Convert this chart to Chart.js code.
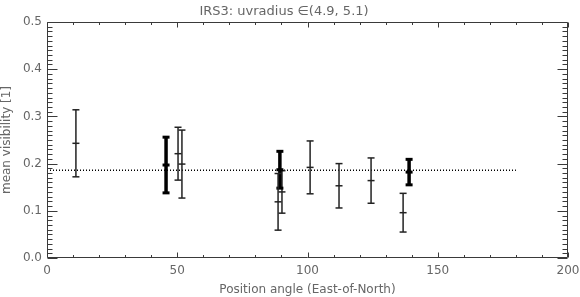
<!DOCTYPE html>
<html>
<head>
<meta charset="utf-8">
<script src="https://cdn.jsdelivr.net/npm/chart.js@4.4.0/dist/chart.umd.min.js"></script>
<style>
html,body{margin:0;padding:0;background:#fff;}
canvas{display:block;}
</style>
</head>
<body>
<canvas id="c" width="580" height="297"></canvas>
<script>
// Data
const angles     = [11.1, 45.7, 50.3, 51.8, 88.7, 89.4, 90.2, 101.0, 112.1, 124.4, 136.7, 139.0];
const visibility = [0.243, 0.197, 0.221, 0.199, 0.119, 0.187, 0.140, 0.192, 0.153, 0.164, 0.096, 0.182];
const errors     = [0.071, 0.059, 0.056, 0.072, 0.060, 0.039, 0.045, 0.056, 0.047, 0.048, 0.041, 0.027];
const heavy      = [0, 1, 0, 0, 0, 1, 0, 0, 0, 0, 0, 1];
const meanVis    = 0.186;
const meanRange  = [0, 180];
const xTicks     = [0, 50, 100, 150, 200];
const yTicks     = [0.0, 0.1, 0.2, 0.3, 0.4, 0.5];
const yTickLabels= ['0.0', '0.1', '0.2', '0.3', '0.4', '0.5'];
const xMinorStep = 10;
const yMinorStep = 0.01;

const TEXT = '#666';
const AXIS = '#3a3a3a';

const datasets = angles.map((a, i) => {
  const col = heavy[i] ? '#000' : '#222';
  return {
    type: 'scatter',
    showLine: true,
    data: [
      {x: a, y: visibility[i] - errors[i]},
      {x: a, y: visibility[i]},
      {x: a, y: visibility[i] + errors[i]}
    ],
    borderColor: col,
    borderWidth: heavy[i] ? 3.5 : 1.5,
    pointStyle: 'line',
    pointRadius: 3.5,
    pointHoverRadius: 3.5,
    pointBorderColor: col,
    pointBorderWidth: heavy[i] ? 3 : 1.5,
    pointBackgroundColor: col
  };
});
datasets.push({
  type: 'scatter',
  showLine: true,
  data: [{x: meanRange[0], y: meanVis}, {x: meanRange[1], y: meanVis}],
  borderColor: '#000',
  borderWidth: 1.5,
  borderDash: [1, 2],
  pointRadius: 0
});

const frameTicks = {
  id: 'frameTicks',
  afterDraw(chart) {
    const ctx = chart.ctx;
    try {
      const ca = chart.chartArea;
      const x = chart.scales.x, y = chart.scales.y;
      ctx.save();
      ctx.strokeStyle = AXIS;
      ctx.lineWidth = 1;
      ctx.setLineDash([]);
      ctx.globalAlpha = 1;
      const L = Math.round(ca.left) + 0.5, R = Math.round(ca.right) - 0.5;
      const T = Math.round(ca.top) + 0.5, B = Math.round(ca.bottom) - 0.5;
      ctx.beginPath();
      ctx.rect(L, T, R - L, B - T);
      // x ticks (bottom and top)
      for (let k = 0; k <= Math.round((x.max - x.min) / xMinorStep); k++) {
        const v = x.min + k * xMinorStep;
        const major = xTicks.some(t => Math.abs(t - v) < 1e-6);
        const len = major ? 5 : 2.5;
        const px = Math.round(x.getPixelForValue(v)) + 0.5;
        ctx.moveTo(px, B); ctx.lineTo(px, B - len);
        ctx.moveTo(px, T); ctx.lineTo(px, T + len);
      }
      // y ticks (left and right)
      for (let k = 0; k <= Math.round((y.max - y.min) / yMinorStep); k++) {
        const v = y.min + k * yMinorStep;
        const major = yTicks.some(t => Math.abs(t - v) < 1e-6);
        const len = major ? 10 : 5;
        const py = Math.round(y.getPixelForValue(v)) + 0.5;
        ctx.moveTo(L, py); ctx.lineTo(L + len, py);
        ctx.moveTo(R, py); ctx.lineTo(R - len, py);
      }
      ctx.stroke();
      ctx.restore();
    } catch (e) {
      ctx.save();
      ctx.fillStyle = 'red';
      ctx.font = '11px DejaVu Sans';
      ctx.fillText(String(e), 60, 40);
      ctx.restore();
    }
  }
};

new Chart(document.getElementById('c'), {
  type: 'scatter',
  data: {datasets},
  options: {
    responsive: false,
    animation: false,
    devicePixelRatio: 1,
    layout: {padding: {left: 0, right: 12, top: 0, bottom: 0}},
    plugins: {
      legend: {display: false},
      tooltip: {enabled: false},
      title: {
        display: true,
        text: 'IRS3: uvradius \u2208(4.9, 5.1)',
        color: TEXT,
        font: {family: 'DejaVu Sans', size: 13, weight: 'normal'},
        padding: {top: 4, bottom: 2.4}
      }
    },
    scales: {
      x: {
        type: 'linear', min: 0, max: 200,
        afterBuildTicks: s => { s.ticks = xTicks.map(v => ({value: v})); },
        afterFit: s => { s.height = 39; s.paddingLeft = 0; s.paddingRight = 0; },
        grid: {display: false, drawTicks: false},
        border: {display: false},
        ticks: {color: TEXT, font: {family: 'DejaVu Sans', size: 12}, padding: 6, maxRotation: 0,
                callback: v => String(v)},
        title: {display: true, text: 'Position angle (East-of-North)', color: TEXT,
                font: {family: 'DejaVu Sans', size: 12}, padding: {top: 2, bottom: 0}}
      },
      y: {
        type: 'linear', min: 0, max: 0.5,
        afterBuildTicks: s => { s.ticks = yTicks.map(v => ({value: v})); },
        afterFit: s => { s.width = 47; s.paddingTop = 0; s.paddingBottom = 0; },
        grid: {display: false, drawTicks: false},
        border: {display: false},
        ticks: {color: TEXT, font: {family: 'DejaVu Sans', size: 12}, padding: 5,
                callback: v => yTickLabels[yTicks.findIndex(t => Math.abs(t - v) < 1e-6)]},
        title: {display: true, text: 'mean visibility [1]', color: TEXT,
                font: {family: 'DejaVu Sans', size: 12}, padding: {top: 0, bottom: 0}}
      }
    }
  },
  plugins: [frameTicks]
});
</script>
</body>
</html>
